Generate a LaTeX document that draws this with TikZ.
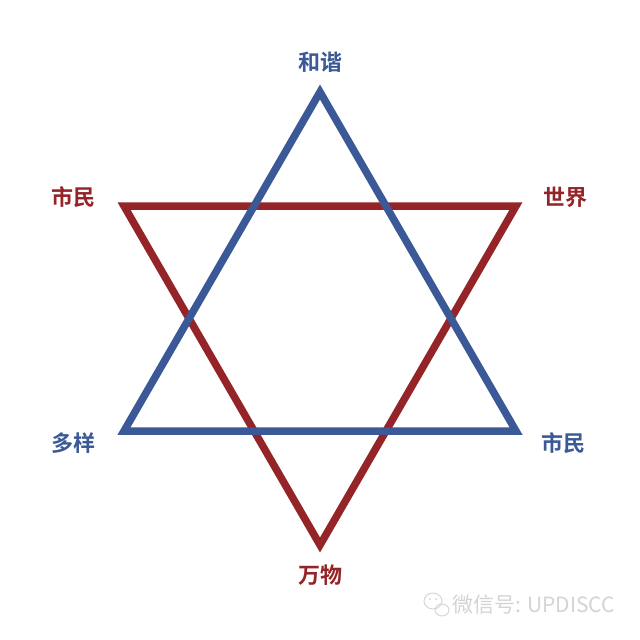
\documentclass[tikz,border=0pt]{standalone}
\usepackage{fontspec}
\newfontfamily\cjk{Noto Sans CJK SC}[BoldFont={Noto Sans CJK SC Bold}]
\definecolor{starblue}{HTML}{3A5996}
\definecolor{starred}{HTML}{952428}
\definecolor{wmgray}{HTML}{D4D4D4}
\tikzset{
  tri/.style={line width=7.5pt, line join=miter},
  lbl/.style={font=\cjk\bfseries\fontsize{22}{22}\selectfont, inner sep=0pt},
  wm/.style={font=\cjk\fontsize{21}{21}\selectfont, text=wmgray, inner sep=0pt, anchor=west}
}
\begin{document}
\begin{tikzpicture}[x=1pt,y=-1pt]
\useasboundingbox[fill=white] (0,0) rectangle (640,640);
% red triangle
\coordinate (r1) at (124,206);
\coordinate (r2) at (516,206);
\coordinate (r3) at (320,545);
\draw[tri, starred] (r1) -- (r2) -- (r3) -- cycle;
% blue triangle
\coordinate (b1) at (320,92);
\coordinate (b2) at (516,431);
\coordinate (b3) at (124,431);
\draw[tri, starblue] (b1) -- (b2) -- (b3) -- cycle;
% labels
\node[lbl, text=starblue] (t1) at (320,62) {和谐};
\node[lbl, text=starred] (t2) at (73,197) {市民};
\node[lbl, text=starred] (t3) at (565,197) {世界};
\node[lbl, text=starblue] (t4) at (73,443) {多样};
\node[lbl, text=starblue] (t5) at (563,443) {市民};
\node[lbl, text=starred] (t6) at (320,575) {万物};
% watermark
\begin{scope}[wmgray, line width=0.9pt]
\draw (433,601) ellipse (9pt and 8pt);
\draw (442,610) ellipse (7pt and 6pt);
\fill (430,599) circle (1pt);
\fill (436,599) circle (1pt);
\end{scope}
\node[wm] (wmt) at (452,605) {微信号: UPDISCC};
\end{tikzpicture}
\end{document}
